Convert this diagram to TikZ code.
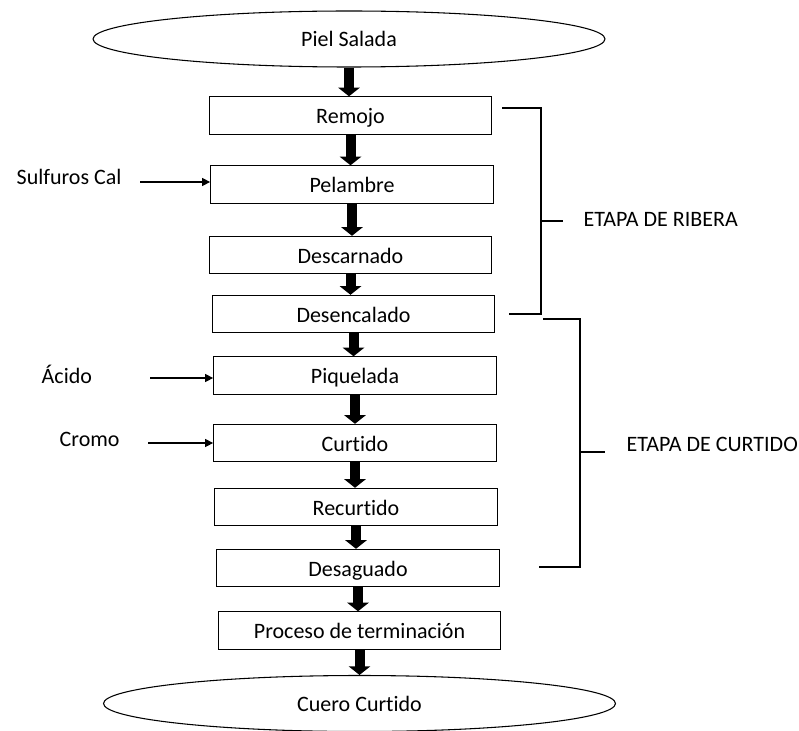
\documentclass[tikz,border=0pt]{standalone}
\usepackage{fontspec}
\setmainfont{Carlito}[Ligatures=NoCommon]
\usepackage{tikz}
\usetikzlibrary{arrows.meta, shapes.geometric}
\tikzset{
	stage/.style={draw, line width=0.8pt, minimum width=212pt, minimum height=28pt, inner sep=0pt},
	endpoint/.style={draw, ellipse, line width=0.8pt, minimum width=384pt, minimum height=42pt, inner sep=0pt},
	flow/.style={line width=7.5pt, -{Triangle[length=6.5pt, width=16pt]}},
	feed/.style={line width=0.9pt, -{Triangle[length=6pt, width=6pt]}},
	bracket/.style={line width=1.6pt},
	every node/.style={font=\fontsize{16.5pt}{19pt}\selectfont, text height=13.5pt, text depth=1.5pt},
}

\begin{document}
\begin{tikzpicture}[x=0.75pt, y=-0.75pt]
		\useasboundingbox (0, 0) rectangle (799, 731);

		\node[endpoint] (piel) at (349, 39) {Piel Salada};
		\node[stage] (remojo) at (350.5, 115.5) {Remojo};
		\node[stage] (pelambre) at (352, 184.5) {Pelambre};
		\node[stage] (descarnado) at (350.5, 255) {Descarnado};
		\node[stage] (desencalado) at (353.5, 314) {Desencalado};
		\node[stage] (piquelada) at (355, 375.5) {Piquelada};
		\node[stage] (curtido) at (355, 443) {Curtido};
		\node[stage] (recurtido) at (356, 507) {Recurtido};
		\node[stage] (desaguado) at (358, 568) {Desaguado};
		\node[stage] (terminacion) at (359.5, 630.5) {Proceso de terminación};
		\node[endpoint] (cuero) at (359.5, 703.5) {Cuero Curtido};

		\draw[flow] (piel.south) -- (piel.south |- remojo.north);
		\draw[flow] (remojo.south) -- (remojo.south |- pelambre.north);
		\draw[flow] (pelambre.south) -- (pelambre.south |- descarnado.north);
		\draw[flow] (descarnado.south) -- (descarnado.south |- desencalado.north);
		\draw[flow] (desencalado.south) -- (desencalado.south |- piquelada.north);
		\draw[flow] (piquelada.south) -- (piquelada.south |- curtido.north);
		\draw[flow] (curtido.south) -- (curtido.south |- recurtido.north);
		\draw[flow] (recurtido.south) -- (recurtido.south |- desaguado.north);
		\draw[flow] (desaguado.south) -- (desaguado.south |- terminacion.north);
		\draw[flow] (terminacion.south) -- (terminacion.south |- cuero.north);

		% insumos
		\node[anchor=west] (sulfuros) at (12, 177) {Sulfuros Cal};
		\node[anchor=west] (acido) at (37, 375) {Ácido};
		\node[anchor=west] (cromo) at (55, 438) {Cromo};
		\coordinate (sulfin) at (140, 182);
		\coordinate (acidoin) at (150, 378);
		\coordinate (cromoin) at (148, 443);
		\draw[feed] (sulfin) -- (sulfin -| pelambre.west);
		\draw[feed] (acidoin) -- (acidoin -| piquelada.west);
		\draw[feed] (cromoin) -- (cromoin -| curtido.west);

		% etapas
		\draw[bracket] (502, 108) -- (541, 108) -- (541, 314) -- (509, 314);
		\draw[bracket] (541, 221) -- (563, 221);
		\node[anchor=west] (ribera) at (579, 218) {ETAPA DE RIBERA};

		\draw[bracket] (543, 319) -- (580, 319) -- (580, 567) -- (539, 567);
		\draw[bracket] (580, 452) -- (605, 452);
		\node[anchor=west] (etapacurtido) at (622, 443) {ETAPA DE CURTIDO};
	\end{tikzpicture}
\end{document}
